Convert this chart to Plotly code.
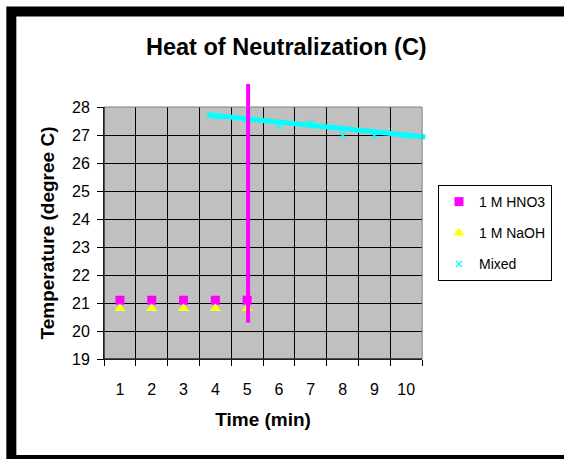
import plotly.graph_objects as go

# ---- data ----
time_ticks = [1, 2, 3, 4, 5, 6, 7, 8, 9, 10]
hno3_time = [1, 2, 3, 4, 5]
hno3_temp = [21.1, 21.1, 21.1, 21.1, 21.1]
naoh_time = [1, 2, 3, 4, 5]
naoh_temp = [20.8, 20.8, 20.8, 20.8, 20.8]
mixed_time = [4, 5, 6, 7, 8, 9, 10]
mixed_temp = [27.65, 27.55, 27.32, 27.43, 27.0, 26.97, 26.95]
mixed_line_time = [3.75, 10.6]
mixed_line_temp = [27.72, 26.93]
spike_time = [5.03, 5.03]
spike_temp = [20.3, 28.82]

# ---- layout geometry (pixels) ----
W, H = 564, 459
L, R_OUT, T_OUT, B = 104, 440, 80, 359   # overlay subplot box
R_MAIN, T_MAIN = 425, 107                 # main plot box
pw, ph = R_OUT - L, B - T_OUT

def px(x):
    return (x - L) / pw

def py(y):
    return (B - y) / ph

x_lo, x_hi = 0.5, 10.5
y_lo, y_hi = 19, 28
xd = (R_MAIN - L) / pw
yd = (B - T_MAIN) / ph

FONT = "Liberation Sans, Arial, sans-serif"

fig = go.Figure()
fig.add_trace(go.Scatter(x=hno3_time, y=hno3_temp, mode="markers", name="1 M HNO3",
                         marker=dict(symbol="square", size=9, color="#FF00FF"),
                         legendgroup="a"))
fig.add_trace(go.Scatter(x=naoh_time, y=naoh_temp, mode="markers", name="1 M NaOH",
                         marker=dict(symbol="triangle-up", size=10, color="#FFFF00"),
                         legendgroup="b"))
fig.add_trace(go.Scatter(x=mixed_time, y=mixed_temp, mode="markers", name="Mixed",
                         marker=dict(symbol="x-thin", size=6, color="#00FFFF",
                                     line=dict(color="#00FFFF", width=1.2)),
                         legendgroup="c"))
fig.add_trace(go.Scatter(x=mixed_line_time, y=mixed_line_temp, mode="lines",
                         line=dict(color="#00FFFF", width=5), showlegend=False,
                         xaxis="x2", yaxis="y2"))
fig.add_trace(go.Scatter(x=spike_time, y=spike_temp, mode="lines",
                         line=dict(color="#FF00FF", width=4), showlegend=False,
                         xaxis="x2", yaxis="y2"))

fig.update_layout(
    width=W, height=H,
    margin=dict(l=L, r=W - R_OUT, t=T_OUT, b=H - B),
    paper_bgcolor="white",
    plot_bgcolor="rgba(0,0,0,0)",
    font=dict(family=FONT, size=15, color="black"),
    title=dict(text="Heat of Neutralization (C)",
               font=dict(size=23.5, family=FONT, weight="bold"),
               x=px(288), xref="paper", xanchor="center",
               y=1 - 47 / H, yref="container", yanchor="middle"),
    xaxis=dict(domain=[0, xd], range=[x_lo, x_hi], anchor="y",
               tickmode="array", tickvals=time_ticks,
               ticktext=[str(t) for t in time_ticks],
               tickfont=dict(size=16),
               ticks="outside", ticklen=16, tickcolor="rgba(0,0,0,0)",
               showgrid=False, zeroline=False,
               showline=True, linecolor="black", linewidth=1,
               minor=dict(tickmode="linear", tick0=0.5, dtick=1, ticks="outside",
                          ticklen=6, tickcolor="black", showgrid=True,
                          gridcolor="black", gridwidth=1),
               title=dict(text="Time (min)", font=dict(size=19, weight="bold"),
                          standoff=15)),
    yaxis=dict(domain=[0, yd], range=[y_lo, y_hi], anchor="x",
               dtick=1, tick0=19, ticks="outside", ticklen=6, tickcolor="black",
               tickfont=dict(size=16),
               showgrid=True, gridcolor="black", gridwidth=1, zeroline=False,
               showline=True, linecolor="black", linewidth=1,
               ticklabelstandoff=4,
               title=dict(text="Temperature (degree C)",
                          font=dict(size=19, weight="bold"), standoff=12)),
    xaxis2=dict(domain=[0, 1], anchor="y2", visible=False,
                range=[x_lo, x_lo + (x_hi - x_lo) / xd]),
    yaxis2=dict(domain=[0, 1], anchor="x2", visible=False,
                range=[y_lo, y_lo + (y_hi - y_lo) / yd]),
    legend=dict(x=px(441), y=py(185), xanchor="left", yanchor="top",
                bgcolor="white", bordercolor="black", borderwidth=1,
                font=dict(size=14), tracegroupgap=10),
    showlegend=True,
)

fig.add_shape(type="rect", xref="x domain", yref="y domain", x0=0, x1=1, y0=0, y1=1,
              fillcolor="#C0C0C0", line=dict(width=0), layer="below")
fig.add_shape(type="rect", xref="x domain", yref="y domain", x0=0, x1=1, y0=0, y1=1,
              fillcolor="rgba(0,0,0,0)", line=dict(width=1, color="#808080"), layer="above")
fig.add_shape(type="line", xref="x domain", yref="y domain", x0=0, x1=1, y0=0, y1=0,
              line=dict(width=1, color="black"), layer="above")
fig.add_shape(type="line", xref="x domain", yref="y domain", x0=0, x1=0, y0=0, y1=1,
              line=dict(width=1, color="black"), layer="above")
fig.add_shape(type="rect", xref="paper", yref="paper",
              x0=px(10.5), x1=px(575), y0=py(460), y1=py(11.5),
              fillcolor="rgba(0,0,0,0)", line=dict(width=10, color="black"), layer="above")

fig.write_html("out.html")
